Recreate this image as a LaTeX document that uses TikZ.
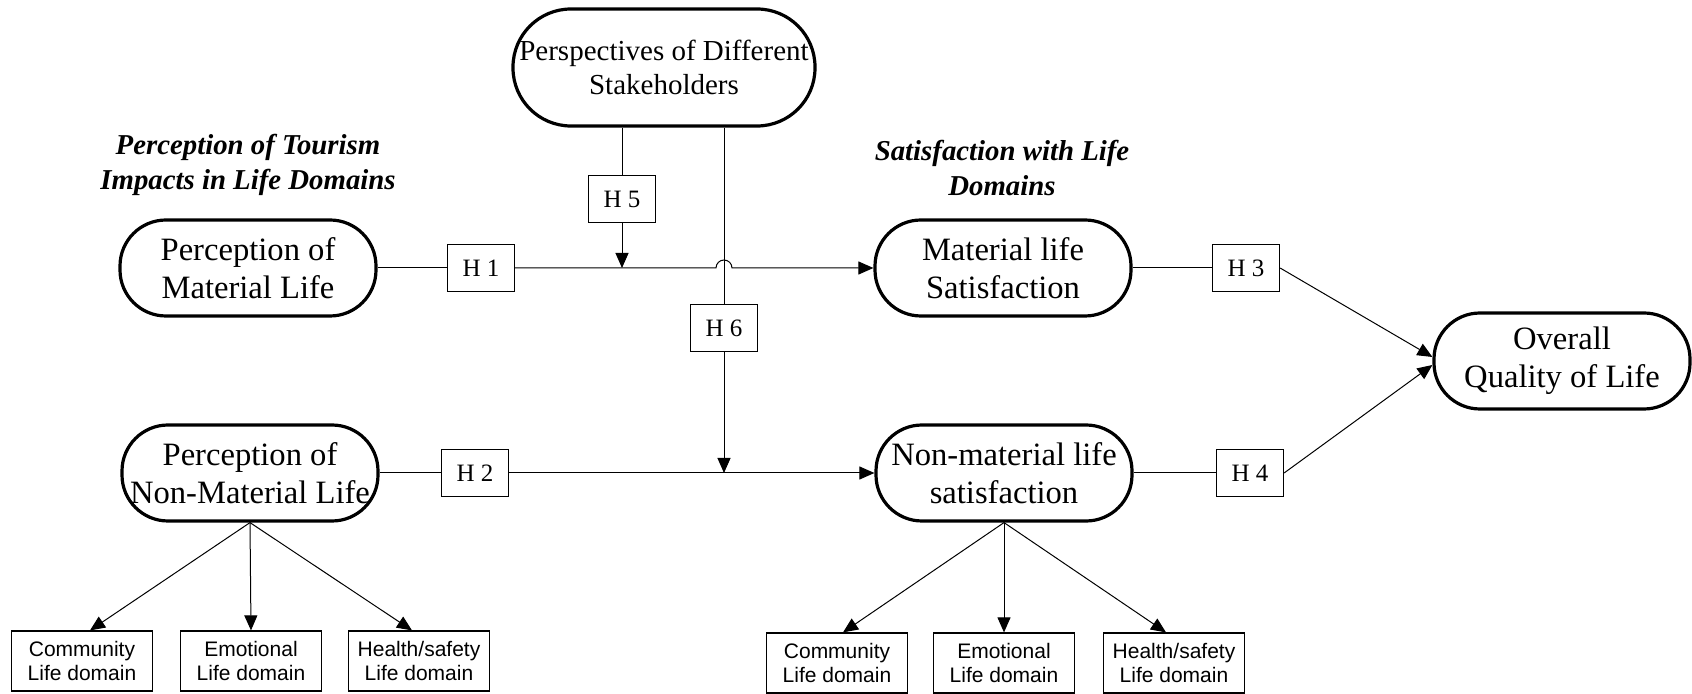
\documentclass[tikz,border=0pt]{standalone}
\usepackage{fontspec}
\setmainfont{Liberation Serif}
\setsansfont{Liberation Sans}
\usetikzlibrary{arrows.meta,calc}
\begin{document}
\begin{tikzpicture}[x=0.5pt,y=-0.5pt,
 pill/.style={draw, line width=1.6pt, rounded corners=23pt, minimum width=128pt, minimum height=48pt, align=center, inner sep=0pt, font=\fontsize{16.3}{19}\selectfont},
 hbox/.style={draw, line width=0.6pt, minimum width=33.5pt, minimum height=23.5pt, inner sep=0pt, font=\fontsize{12.5}{14}\selectfont},
 dbox/.style={draw, line width=0.6pt, minimum width=70.5pt, minimum height=30pt, inner sep=0pt, align=center, font=\sffamily\fontsize{10.5}{12}\selectfont},
 conn/.style={line width=0.5pt},
 arr/.style={line width=0.5pt, -{Triangle[length=7.5pt,width=6.5pt]}},
 head/.style={align=center, font=\bfseries\itshape\fontsize{14.4}{17.5}\selectfont}]
\useasboundingbox (0,0) rectangle (1692,694);

% main nodes
\node[pill, minimum width=151pt, minimum height=58.5pt, rounded corners=29pt, font=\fontsize{14.5}{17}\selectfont] (persp) at (664,67.5) {Perspectives of Different\\Stakeholders};
\node[pill] (pml) at (248,268) {Perception of\\Material Life};
\node[pill] (pnm) at (250,473) {Perception of\\Non-Material Life};
\node[pill] (mls) at (1003,268) {Material life\\Satisfaction};
\node[pill] (nms) at (1004,473) {Non-material life\\satisfaction};
\node[pill] (oql) at (1562,361) {Overall\\Quality of Life};

% headings
\node[head] (head1) at (248,165) {Perception of Tourism\\Impacts in Life Domains};
\node[head] (head2) at (1002,168) {Satisfaction with Life\\Domains};

% hypothesis boxes
\node[hbox] (H1) at (481,268) {H 1};
\node[hbox] (H2) at (475,473) {H 2};
\node[hbox] (H3) at (1246,268) {H 3};
\node[hbox] (H4) at (1250,473) {H 4};
\node[hbox] (H5) at (622,199) {H 5};
\node[hbox] (H6) at (724,328) {H 6};

% domain boxes
\node[dbox] (lc) at (82,661) {Community\\Life domain};
\node[dbox] (le) at (251,661) {Emotional\\Life domain};
\node[dbox] (lh) at (419,661) {Health/safety\\Life domain};
\node[dbox] (rc) at (837,663) {Community\\Life domain};
\node[dbox] (re) at (1004,663) {Emotional\\Life domain};
\node[dbox] (rh) at (1174,663) {Health/safety\\Life domain};

% connectors
\coordinate (hop) at (H6.north |- H1.east);
\draw[conn] (pml.east) -- (H1.west);
\draw[arr] (H1.east) -- ([xshift=-4pt]hop) arc[start angle=180,end angle=0,radius=4pt] -- (mls.west);
\draw[conn] (persp.south -| H5.north) -- (H5.north);
\draw[arr] (H5.south) -- (H5.south |- H1.east);
\draw[conn] (persp.south -| H6.north) -- (H6.north);
\draw[arr] (H6.south) -- (H6.south |- H2.east);
\draw[conn] (pnm.east) -- (H2.west);
\draw[arr] (H2.east) -- (nms.west);
\draw[conn] (mls.east) -- (H3.west);
\draw[arr] (H3.east) -- ([yshift=2pt]oql.west);
\draw[conn] (nms.east) -- (H4.west);
\draw[arr] (H4.east) -- ([yshift=-2pt]oql.west);

\draw[arr] (pnm.south) -- ([xshift=4pt]lc.north);
\draw[arr] (pnm.south) -- (le.north);
\draw[arr] (pnm.south) -- ([xshift=-3.5pt]lh.north);
\draw[arr] (nms.south) -- ([xshift=3pt]rc.north);
\draw[arr] (nms.south) -- (re.north);
\draw[arr] (nms.south) -- ([xshift=-4pt]rh.north);
\end{tikzpicture}
\end{document}
